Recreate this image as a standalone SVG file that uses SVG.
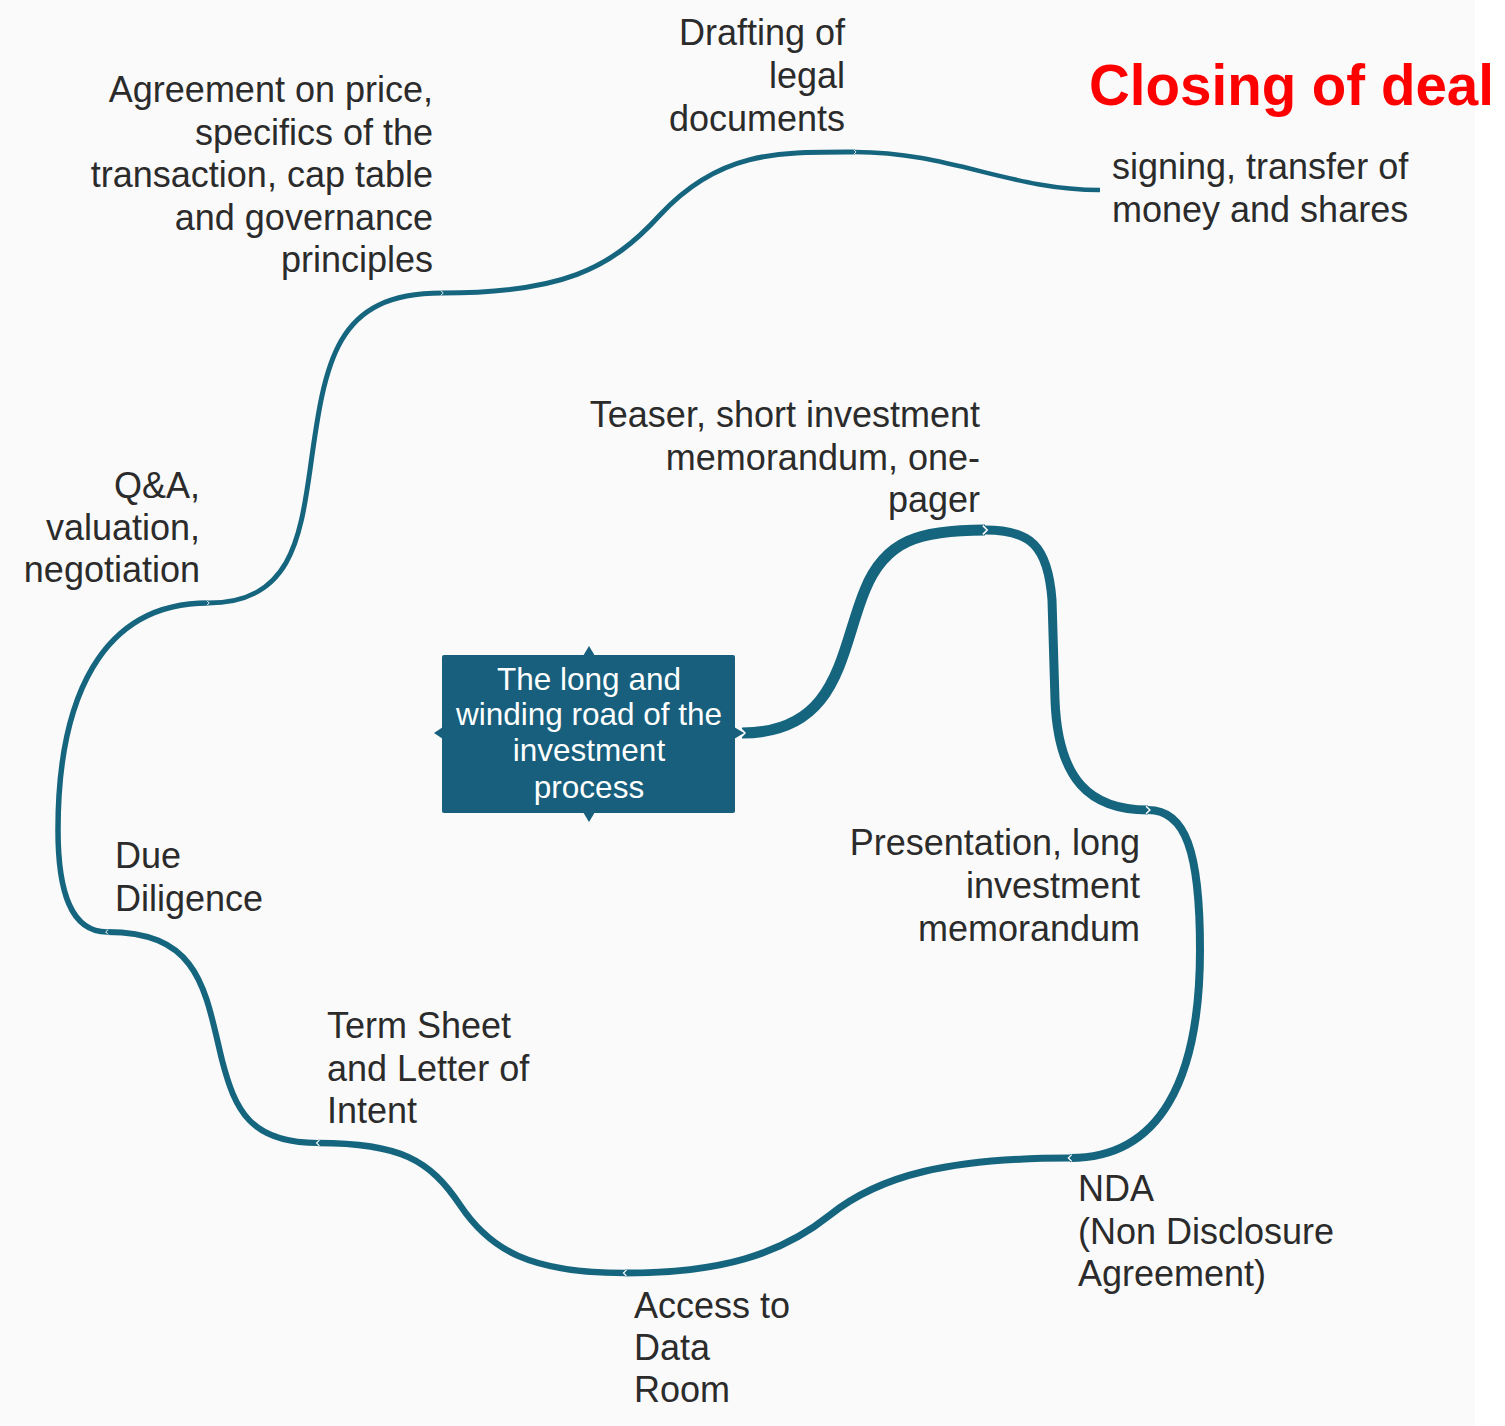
<svg xmlns="http://www.w3.org/2000/svg" width="1505" height="1426" viewBox="0 0 1505 1426">
<style>
.lbl{font-family:"Liberation Sans",Arial,sans-serif;font-size:36px;fill:#2b2b2b}
.r{text-anchor:end}
.ctr{font-family:"Liberation Sans",Arial,sans-serif;font-size:31.5px;fill:#ffffff;text-anchor:middle}
.road{fill:none;stroke:#16657f;stroke-linecap:butt;marker-start:url(#notch)}
</style>
<defs>
<marker id="notch" viewBox="0 0 10 10" refX="5" refY="5" markerWidth="1.2" markerHeight="1.2" markerUnits="strokeWidth" orient="auto">
<polyline points="3,1 7,5 3,9" fill="none" stroke="#ffffff" stroke-width="1.5"/>
</marker>
</defs>
<rect x="0" y="0" width="1505" height="1426" fill="#ffffff"/>
<rect x="0" y="0" width="1475" height="1426" fill="#fafafa"/>
<g id="connectors">
<path class="road" stroke-width="11" d="M742,733 C840,733 840,650 865,590 C885,540 920,530 985,530"/>
<path class="road" stroke-width="9" d="M985,530 C1030,530 1048,545 1052,600 L1055,700 C1058,780 1090,810 1148,810"/>
<path class="road" stroke-width="8" d="M1148,810 C1185,810 1200,850 1200,950 C1200,1080 1160,1158 1070,1158"/>
<path class="road" stroke-width="7" d="M1070,1158 C950,1158 880,1175 830,1215 C780,1255 720,1273 625,1273"/>
<path class="road" stroke-width="6.5" d="M625,1273 C530,1273 490,1250 460,1205 C430,1160 400,1143 318,1143"/>
<path class="road" stroke-width="6" d="M318,1143 C250,1143 235,1110 222,1060 C205,990 200,932 107,932"/>
<path class="road" stroke-width="5.5" d="M107,932 C70,932 58,890 58,830 C58,700 100,603 208,603"/>
<path class="road" stroke-width="5" d="M208,603 C290,603 300,540 310,470 C325,360 335,293 442,293"/>
<path class="road" stroke-width="5" d="M442,293 C560,293 610,270 660,215 C720,150 780,152 855,152"/>
<path class="road" stroke-width="4.5" d="M855,152 C950,152 1010,190 1100,190"/>
</g>
<g id="center">
<rect x="442" y="655" width="293" height="158" rx="2" fill="#175f7c"/>
<polygon points="583,656 589,646 595,656" fill="#175f7c"/>
<polygon points="583,812 589,822 595,812" fill="#175f7c"/>
<polygon points="443,727 434,733 443,739" fill="#175f7c"/>
<polygon points="734,727 744,733 734,739" fill="#175f7c"/>
<text class="ctr"><tspan x="589" y="690">The long and</tspan><tspan x="589" y="725">winding road of the</tspan><tspan x="589" y="761">investment</tspan><tspan x="589" y="798">process</tspan></text>
</g>
<g id="teaser"><text class="lbl r"><tspan x="980" y="427">Teaser, short investment</tspan><tspan x="980" y="470">memorandum, one-</tspan><tspan x="980" y="512">pager</tspan></text></g>
<g id="presentation"><text class="lbl r"><tspan x="1140" y="855">Presentation, long</tspan><tspan x="1140" y="898">investment</tspan><tspan x="1140" y="941">memorandum</tspan></text></g>
<g id="nda"><text class="lbl"><tspan x="1078" y="1201">NDA</tspan><tspan x="1078" y="1244">(Non Disclosure</tspan><tspan x="1078" y="1286">Agreement)</tspan></text></g>
<g id="dataroom"><text class="lbl"><tspan x="634" y="1318">Access to</tspan><tspan x="634" y="1360">Data</tspan><tspan x="634" y="1402">Room</tspan></text></g>
<g id="termsheet"><text class="lbl"><tspan x="327" y="1038">Term Sheet</tspan><tspan x="327" y="1081">and Letter of</tspan><tspan x="327" y="1123">Intent</tspan></text></g>
<g id="duediligence"><text class="lbl"><tspan x="115" y="868">Due</tspan><tspan x="115" y="911">Diligence</tspan></text></g>
<g id="qa"><text class="lbl r"><tspan x="200" y="498">Q&amp;A,</tspan><tspan x="200" y="540">valuation,</tspan><tspan x="200" y="582">negotiation</tspan></text></g>
<g id="agreement"><text class="lbl r"><tspan x="433" y="102">Agreement on price,</tspan><tspan x="433" y="145">specifics of the</tspan><tspan x="433" y="187">transaction, cap table</tspan><tspan x="433" y="230">and governance</tspan><tspan x="433" y="272">principles</tspan></text></g>
<g id="drafting"><text class="lbl r"><tspan x="845" y="45">Drafting of</tspan><tspan x="845" y="88">legal</tspan><tspan x="845" y="131">documents</tspan></text></g>
<g id="closing">
<text x="1089" y="105" font-family="'Liberation Sans',Arial,sans-serif" font-size="56.5" font-weight="bold" fill="#ff0000">Closing of deal</text>
<text class="lbl"><tspan x="1112" y="179">signing, transfer of</tspan><tspan x="1112" y="222">money and shares</tspan></text>
</g>
</svg>
